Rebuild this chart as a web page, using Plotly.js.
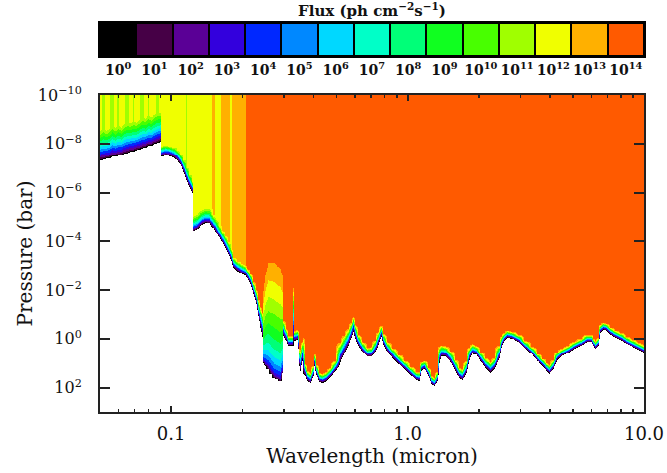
<!DOCTYPE html>
<html>
<head>
<meta charset="utf-8">
<script src="https://cdn.plot.ly/plotly-3.0.1.min.js"></script>
<style>html,body{margin:0;padding:0;background:#fff;}#chart{width:667px;height:473px;}</style>
</head>
<body>
<div id="chart"></div>
<script>
// Wavelength nodes (micron)
const wl = [
0.0500,0.05148,0.05301,0.05459,0.05621,0.05787,0.05959,0.06136,0.06318,0.06506,
0.06699,0.06898,0.07103,0.07313,0.07530,0.07754,0.07984,0.08221,0.08465,0.08716,
0.0900,0.0907,0.09424,0.09798,0.10188,0.10593,0.10908,0.11232,0.11565,0.11908,
0.1224,0.1234,0.12874,0.13387,0.13919,0.14473,0.15048,0.15495,0.15955,0.16428,
0.16916,0.17418,0.17847,0.18288,0.19015,0.19771,0.20558,0.20963,0.21585,0.22226,
0.22886,0.23336,0.23796,0.24147,0.24383,0.24985,0.25727,0.26490,0.27276,0.28086,
0.28779,0.29346,0.29778,0.30513,0.31266,0.32038,0.32510,0.32764,0.33150,0.33968,
0.34637,0.35147,0.35665,0.36014,0.36723,0.37630,0.38747,0.39703,0.40288,0.41082,
0.42301,0.43557,0.45289,0.47090,0.49443,0.51913,0.53978,0.56125,0.57791,0.58929,
0.60089,0.61873,0.64334,0.67548,0.70235,0.73029,0.75196,0.77052,0.78953,0.82094,
0.86196,0.91390,0.96899,1.02738,1.08929,1.12162,1.14371,1.17766,1.21855,1.26085,
1.29828,1.33031,1.35651,1.38999,1.44527,1.51748,1.59330,1.65666,1.70583,1.77369,
1.82633,1.88054,1.95534,2.03312,2.13471,2.24138,2.33054,2.43508,2.49517,2.55675,
2.64553,2.77771,2.94505,3.12247,3.31057,3.51003,3.68538,3.83196,3.96497,4.10263,
4.26581,4.47894,4.74874,5.03466,5.39026,5.71503,5.94232,6.08898,6.20889,6.36214,
6.51916,6.68004,6.87831,7.15192,7.50938,7.88451,8.35941,8.86297,9.39679,10.0];

// log10 pressure (bar) where the flux falls to 1 ph cm-2 s-1 (lower edge of coloured area)
const pBot = [
-7.35,-7.37,-7.41,-7.43,-7.50,-7.50,-7.54,-7.56,-7.62,-7.64,
-7.70,-7.70,-7.76,-7.78,-7.84,-7.87,-7.93,-7.95,-8.01,-8.05,
-8.11,-7.50,-7.54,-7.52,-7.45,-7.33,-7.17,-6.88,-6.55,-6.26,
-6.02,-4.46,-4.54,-4.70,-4.79,-4.77,-4.58,-4.38,-4.17,-3.97,
-3.76,-3.51,-3.23,-2.94,-2.80,-2.69,-2.61,-2.49,-2.28,-1.87,
-1.46,-0.93,-0.48,-0.11,0.96,1.08,1.21,1.41,1.58,1.62,
1.70,1.37,-0.15,0.06,0.26,0.26,0.26,0.26,0.06,0.02,
1.08,1.29,0.88,1.41,1.49,1.70,1.78,1.49,1.08,1.45,
1.74,1.78,1.70,1.54,1.29,0.92,0.59,0.26,-0.07,-0.31,
-0.02,0.26,0.51,0.71,0.71,0.51,0.22,-0.11,0.22,0.51,
0.76,1.00,1.21,1.45,1.66,1.70,1.29,1.21,1.49,1.82,
1.90,1.70,0.96,0.71,0.71,0.92,1.29,1.58,1.66,1.37,
0.84,0.59,0.63,0.88,1.17,1.37,1.21,0.76,0.35,0.06,
-0.07,-0.02,0.10,0.35,0.59,0.88,1.08,1.29,1.41,1.21,
0.84,0.67,0.55,0.39,0.26,0.10,0.10,0.26,0.39,0.26,
-0.27,-0.39,-0.35,-0.19,-0.07,0.02,0.18,0.30,0.43,0.55];

// thickness (decades of pressure) of the coloured attenuation band
const band = [
1.20,1.20,1.20,1.20,1.20,1.20,1.20,1.20,1.20,1.20,
1.20,1.20,1.20,1.20,1.20,1.20,1.20,1.20,1.20,1.20,
1.20,0.41,0.41,0.41,0.41,0.41,0.41,0.45,0.49,0.49,
0.45,0.57,0.57,0.57,0.57,0.57,0.53,0.53,0.49,0.49,
0.49,0.49,0.45,0.41,0.41,0.41,0.41,0.41,0.41,0.49,
0.57,0.74,0.90,1.03,3.28,4.11,4.84,5.05,5.25,5.13,
5.13,4.43,0.62,0.49,0.41,0.41,0.41,2.46,0.41,0.41,
0.74,0.90,0.82,1.55,0.49,0.41,0.41,0.41,0.49,0.41,
0.37,0.37,0.37,0.37,0.41,0.82,0.78,0.70,0.62,0.62,
0.57,0.45,0.41,0.37,0.41,0.49,0.53,0.45,0.45,0.41,
0.41,0.37,0.33,0.33,0.33,0.37,0.37,0.33,0.33,0.33,
0.33,0.37,0.70,0.49,0.45,0.45,0.45,0.41,0.45,0.49,
0.53,0.41,0.37,0.37,0.41,0.45,0.45,0.53,0.49,0.33,
0.29,0.29,0.29,0.29,0.29,0.29,0.29,0.33,0.37,0.37,
0.33,0.29,0.29,0.29,0.29,0.29,0.29,0.29,0.33,0.33,
0.33,0.29,0.29,0.29,0.29,0.29,0.29,0.29,0.29,0.29];

// log10 flux at the top of the atmosphere
const fTop = [
12.2,11.6,12.5,12.0,11.5,12.3,11.8,12.6,12.1,11.7,
12.4,11.9,12.6,12.0,11.7,12.3,11.9,12.5,12.1,11.8,
12.2,12.4,12.2,12.7,12.3,12.1,12.5,12.2,11.9,12.3,
12.0,12.1,12.4,12.2,12.5,12.3,13.3,12.4,12.6,13.4,
13.3,13.5,12.6,13.4,13.5,13.3,13.5,14.6,14.6,14.6,
14.6,14.6,14.6,14.6,14.6,14.6,14.6,14.6,14.6,14.6,
14.6,14.6,14.6,14.6,14.6,14.6,14.6,14.6,14.6,14.6,
14.6,14.6,14.6,14.6,14.6,14.6,14.6,14.6,14.6,14.6,
14.6,14.6,14.6,14.6,14.6,14.6,14.6,14.6,14.6,14.6,
14.6,14.6,14.6,14.6,14.6,14.6,14.6,14.6,14.6,14.6,
14.6,14.6,14.6,14.6,14.6,14.6,14.6,14.6,14.6,14.6,
14.6,14.6,14.6,14.6,14.6,14.6,14.6,14.6,14.6,14.6,
14.6,14.6,14.6,14.6,14.6,14.6,14.6,14.6,14.6,14.6,
14.6,14.6,14.6,14.6,14.6,14.6,14.6,14.6,14.6,14.6,
14.6,14.6,14.6,14.6,14.6,14.6,14.6,14.6,14.6,14.6,
14.6,14.6,14.6,14.6,14.6,14.6,14.6,14.6,14.6,14.6];

// profile shape of the band (1 = even fall-off, <1 = slow then steep)
const shape = [
0.7,0.7,0.7,0.7,0.7,0.7,0.7,0.7,0.7,0.7,
0.7,0.7,0.7,0.7,0.7,0.7,0.7,0.7,0.7,0.7,
0.7,1,1,1,1,1,1,1,1,1,
1,0.7,0.7,0.7,0.7,0.7,0.7,0.7,0.8,0.8,
0.8,0.8,0.8,1,1,1,1,1,1,1,
1,1,1,1,0.4,0.4,0.4,0.4,0.4,0.4,
0.4,0.4,1,1,1,1,1,1,1,1,
1,1,1,1,1,1,1,1,1,1,
1,1,1,1,1,1,1,1,1,1,
1,1,1,1,1,1,1,1,1,1,
1,1,1,1,1,1,1,1,1,1,
1,1,1,1,1,1,1,1,1,1,
1,1,1,1,1,1,1,1,1,1,
1,1,1,1,1,1,1,1,1,1,
1,1,1,1,1,1,1,1,1,1,
1,1,1,1,1,1,1,1,1,1];

// colour bar: flux decades and their colours
const fluxExp = [0,1,2,3,4,5,6,7,8,9,10,11,12,13,14];
const fluxColors = ['#000000','#460046','#5a0096','#3300dd','#0028ff','#0088ff','#00d8ff',
  '#00ffc8','#00ff78','#10ff20','#48ff00','#a0ff00','#f0ff00','#ffb000','#ff5a00'];

const yTickVals = [1e-10,1e-8,1e-6,1e-4,1e-2,1e0,1e2];
const yTickText = ['10<sup>\u221210</sup>','10<sup>\u22128</sup>','10<sup>\u22126</sup>','10<sup>\u22124</sup>','10<sup>\u22122</sup>','10<sup>0</sup>','10<sup>2</sup>'];
const xTickVals = [0.1,1,10];
const xTickText = ['0.1','1.0','10.0'];
const xMinor = [0.06,0.07,0.08,0.09,0.2,0.3,0.4,0.5,0.6,0.7,0.8,0.9,2,3,4,5,6,7,8,9];

// --- build the field ---
const logPGrid = [];
for (let v = -10; v <= 3.0001; v += 0.04) logPGrid.push(+v.toFixed(3));
const pres = logPGrid.map(v => Math.pow(10, v));
const z = logPGrid.map(lp => wl.map((w, j) => {
  const d = pBot[j] - lp;
  let val;
  if (d >= band[j]) val = fTop[j];
  else if (d > 0) val = fTop[j] * Math.pow(d / band[j], shape[j]);
  else val = fTop[j] * d / band[j];
  return Math.max(val, -14);
}));

// discrete colour scale: [-1,0) white, [k,k+1) colour k
const zmin = -1, zmax = 15, nb = zmax - zmin;
const cs = [[0, '#ffffff'], [1 / nb, '#ffffff']];
fluxColors.forEach((c, k) => { cs.push([(k + 1) / nb, c]); cs.push([(k + 2) / nb, c]); });

const FONT = 'DejaVu Serif';
const axc = '#222';

const traces = [
  { type: 'heatmap', x: wl, y: pres, z: z, zsmooth: 'best', colorscale: cs, zmin: zmin, zmax: zmax,
    showscale: false, hoverinfo: 'skip', xaxis: 'x', yaxis: 'y' },
  { type: 'heatmap', x: fluxExp, y: [0], z: [fluxExp.map(e => e + 0.5)], colorscale: cs, zmin: zmin, zmax: zmax,
    showscale: false, hoverinfo: 'skip', xgap: 2, ygap: 2, xaxis: 'x2', yaxis: 'y2' }
];

const layout = {
  width: 667, height: 473, autosize: false,
  margin: { l: 100, r: 23, t: 23, b: 61, pad: 0 },
  paper_bgcolor: '#fff', plot_bgcolor: '#fff',
  showlegend: false,
  font: { family: FONT, color: '#111' },
  title: { text: '<b>Flux (ph cm<sup>\u22122</sup>s<sup>\u22121</sup>)</b>', font: { family: FONT, size: 15, color: '#111' },
    x: 0.5, xref: 'paper', xanchor: 'center', y: 1 - 11 / 473, yref: 'container', yanchor: 'middle' },
  xaxis: {
    type: 'log', range: [Math.log10(0.05), 1], domain: [0, 1], anchor: 'y',
    showline: true, linecolor: axc, linewidth: 2, mirror: 'ticks',
    ticks: 'inside', ticklen: 6, tickwidth: 2, tickcolor: axc,
    tickmode: 'array', tickvals: xTickVals, ticktext: xTickText,
    minor: { ticks: 'inside', ticklen: 3, tickwidth: 1.5, tickcolor: axc, tickmode: 'array', tickvals: xMinor, showgrid: false },
    showgrid: false, zeroline: false, automargin: false,
    tickfont: { family: FONT, size: 18, color: '#111' }, ticklabelstandoff: 4,
    title: { text: 'Wavelength (micron)', font: { family: FONT, size: 20, color: '#111' }, standoff: 5 }
  },
  yaxis: {
    type: 'log', range: [3, -10], domain: [0, 0.8149], anchor: 'x',
    showline: true, linecolor: axc, linewidth: 2, mirror: 'ticks',
    ticks: 'inside', ticklen: 10, tickwidth: 2, tickcolor: axc,
    tickmode: 'array', tickvals: yTickVals, ticktext: yTickText,
    showgrid: false, zeroline: false, automargin: false,
    tickfont: { family: FONT, size: 16, color: '#111' }, ticklabelstandoff: 13,
    title: { text: 'Pressure (bar)', font: { family: FONT, size: 20, color: '#111' }, standoff: 0 }
  },
  xaxis2: {
    domain: [0, 1], anchor: 'y2', range: [-0.5, 14.5],
    tickmode: 'array', tickvals: fluxExp, ticktext: fluxExp.map(e => '<b>10<sup>' + e + '</sup></b>'),
    ticks: '', showline: true, mirror: true, linewidth: 2, linecolor: '#000', tickangle: 0,
    showgrid: false, zeroline: false, fixedrange: true,
    tickfont: { family: FONT, size: 14, color: '#111' }, ticklabelstandoff: 0
  },
  yaxis2: {
    domain: [0.9152, 1], anchor: 'x2', range: [-0.5, 0.5],
    showticklabels: false, ticks: '', showline: true, mirror: true, linewidth: 2, linecolor: '#000',
    showgrid: false, zeroline: false, fixedrange: true
  },
  shapes: [
    { type: 'rect', xref: 'x2 domain', yref: 'y2 domain', x0: 0, x1: 1, y0: 0, y1: 1,
      fillcolor: '#000', line: { width: 0 }, layer: 'below' }
  ]
};

Plotly.newPlot('chart', traces, layout, { staticPlot: true, displayModeBar: false });
</script>
</body>
</html>
